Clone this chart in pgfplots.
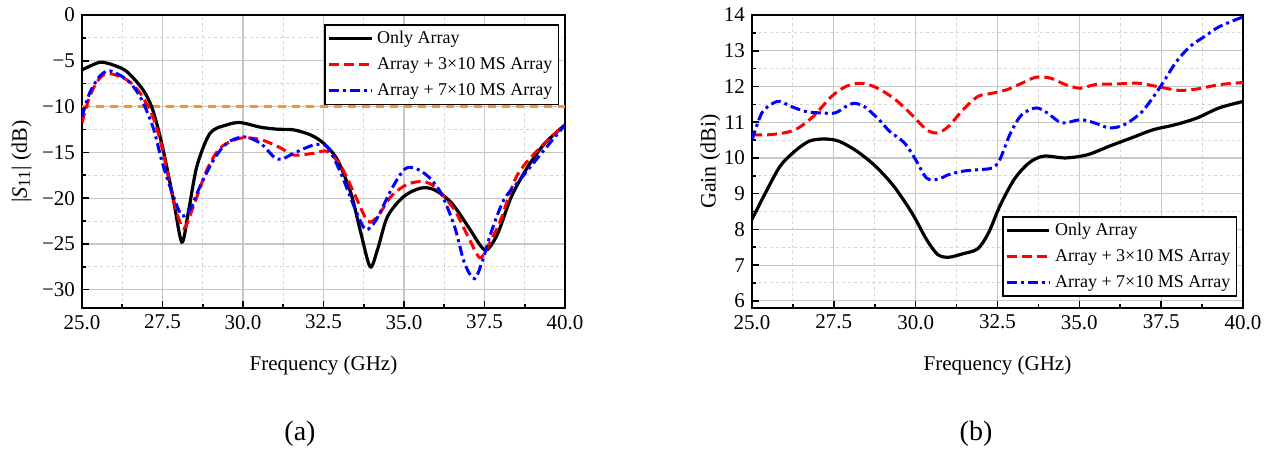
\documentclass[border=0pt]{standalone}
\usepackage{fontspec}
\setmainfont{Liberation Serif}
\usepackage{pgfplots}
\pgfplotsset{compat=1.18}
\definecolor{myorange}{RGB}{245,150,50}
\pgfplotsset{
  myaxis/.style={
    scale only axis,
    xmin=25, xmax=40,
    xtick={25,27.5,30,32.5,35,37.5,40},
    xticklabels={25.0,27.5,30.0,32.5,35.0,37.5,40.0},
    minor x tick num=1,
    minor y tick num=1,
    grid=both,
    major grid style={black!22, line width=0.6pt},
    minor grid style={black!16, dash pattern=on 1.5pt off 1.5pt, line width=0.5pt},
    tick align=inside,
    xtick pos=left, ytick pos=left,
    major tick length=3.5pt, minor tick length=2pt,
    axis line style={line width=0.9pt},
    every tick/.style={black, line width=0.8pt},
    tick label style={font=\fontsize{10.5}{12}\selectfont},
    label style={font=\fontsize{10.5}{12}\selectfont},
    ylabel style={font=\fontsize{11}{13}\selectfont},
    xlabel={Frequency (GHz)},
    xlabel style={at={(axis description cs:0.5,-0.195)}, anchor=center},
    legend cell align=left,
    legend style={font=\fontsize{9}{11}\selectfont, draw=black, line width=0.8pt, inner sep=1pt, row sep=1.5pt},
    legend image code/.code={\draw[#1] (0cm,0cm) -- (0.75cm,0cm);},
  },
  blk/.style={black, line width=1.6pt, smooth},
  rd/.style={red, line width=1.5pt, dash pattern=on 5pt off 2.5pt, smooth},
  bl/.style={blue, line width=1.5pt, dash pattern=on 5pt off 2pt on 1.5pt off 2pt, smooth},
}
\begin{document}
\begin{tikzpicture}
\useasboundingbox (0,0) rectangle (640.5pt,-224.5pt);
% (a)
\begin{axis}[myaxis,
  at={(41pt,-154pt)}, anchor=south west,
  width=241.5pt, height=146.5pt,
  ymin=-32, ymax=0,
  ytick={-30,-25,-20,-15,-10,-5,0},
  yticklabels={−30,−25,−20,−15,−10,−5,0},
  ylabel={|\textit{S}\raisebox{-0.3ex}{\fontsize{8.5}{9}\selectfont 11}| (dB)},
  ylabel style={at={(axis description cs:-0.125,0.5)}, anchor=center},
  legend style={at={(axis description cs:0.988,0.969)}, anchor=north east},
]
\addplot[myorange, line width=1.2pt, dash pattern=on 4pt off 3pt, forget plot] coordinates {(25,-10) (40,-10)};
\addplot[blk] coordinates {(25.0,-6.0) (25.3,-5.5) (25.6,-5.15) (26.0,-5.5) (26.4,-6.2) (26.9,-8.2) (27.2,-10.4) (27.5,-14.4) (27.84,-20.2) (28.1,-24.8) (28.3,-21.6) (28.57,-16.5) (28.98,-12.9) (29.5,-12.0) (29.92,-11.75) (30.54,-12.25) (31.06,-12.47) (31.58,-12.55) (32.1,-13.1) (32.5,-14.0) (32.93,-15.8) (33.35,-19.45) (33.66,-23.8) (33.95,-27.5) (34.18,-25.6) (34.49,-22.0) (35.0,-19.8) (35.53,-18.9) (35.95,-19.1) (36.47,-20.5) (36.99,-23.1) (37.4,-25.3) (37.6,-25.6) (37.92,-23.8) (38.34,-19.8) (38.86,-16.5) (39.38,-14.0) (40,-12.0)};
\addlegendentry{Only Array}
\addplot[rd] coordinates {(25.0,-11.8) (25.24,-8.9) (25.55,-6.9) (25.86,-6.4) (26.4,-7.1) (26.8,-8.5) (27.2,-11.1) (27.5,-14.7) (27.84,-20.2) (28.15,-23.3) (28.46,-20.9) (28.88,-16.9) (29.3,-14.5) (29.92,-13.45) (30.54,-13.6) (31.16,-14.5) (31.58,-15.3) (32.2,-15.1) (32.62,-14.9) (33.04,-16.5) (33.45,-19.45) (33.87,-22.5) (34.18,-22.0) (34.6,-19.8) (35.1,-18.5) (35.6,-18.2) (36.0,-18.9) (36.57,-21.3) (36.99,-24.2) (37.35,-26.5) (37.6,-25.3) (38.0,-22.4) (38.5,-17.6) (39.17,-14.7) (40,-12.0)};
\addlegendentry{Array + 3×10 MS Array}
\addplot[bl] coordinates {(25.0,-11.1) (25.24,-8.5) (25.55,-6.7) (25.86,-6.1) (26.4,-7.1) (26.8,-8.9) (27.2,-12.2) (27.5,-16.2) (27.84,-19.8) (28.1,-21.9) (28.35,-21.3) (28.67,-18.7) (29.09,-15.8) (29.5,-14.0) (30.02,-13.3) (30.54,-14.0) (30.96,-15.5) (31.2,-15.75) (31.58,-15.1) (32.2,-14.2) (32.62,-14.4) (33.04,-17.3) (33.45,-20.9) (33.8,-23.4) (34.13,-22.4) (34.6,-19.1) (35.0,-16.9) (35.32,-16.7) (35.74,-17.6) (36.15,-19.45) (36.57,-23.1) (36.88,-27.1) (37.19,-28.8) (37.45,-26.7) (37.7,-23.8) (38.1,-20.2) (38.6,-18.0) (39.27,-15.1) (40,-12.0)};
\addlegendentry{Array + 7×10 MS Array}
\end{axis}
% (b)
\begin{axis}[myaxis,
  at={(376pt,-154pt)}, anchor=south west,
  width=245.5pt, height=146.5pt,
  ymin=5.8, ymax=14,
  ytick={6,7,8,9,10,11,12,13,14},
  yticklabels={6,7,8,9,10,11,12,13,14},
  ylabel={Gain (dBi)},
  ylabel style={at={(axis description cs:-0.085,0.5)}, anchor=center},
  legend style={at={(axis description cs:0.988,0.0375)}, anchor=south east},
]
\addplot[blk] coordinates {(25.0,8.28) (25.41,9.02) (25.86,9.77) (26.31,10.19) (26.75,10.47) (27.2,10.53) (27.65,10.47) (28.2,10.19) (28.77,9.77) (29.33,9.21) (29.88,8.47) (30.33,7.72) (30.67,7.30) (31.0,7.22) (31.45,7.32) (31.9,7.46) (32.23,7.91) (32.57,8.65) (33.01,9.40) (33.46,9.86) (33.91,10.05) (34.58,10.0) (35.25,10.09) (35.92,10.33) (36.59,10.56) (37.26,10.79) (37.93,10.93) (38.6,11.12) (39.27,11.4) (40,11.58)};
\addlegendentry{Only Array}
\addplot[rd] coordinates {(25.0,10.65) (25.53,10.65) (26.08,10.72) (26.42,10.84) (26.87,11.16) (27.43,11.72) (27.87,12.0) (28.32,12.09) (28.77,11.98) (29.33,11.67) (29.88,11.21) (30.33,10.79) (30.67,10.7) (31.0,10.88) (31.45,11.35) (31.9,11.72) (32.34,11.81) (32.79,11.91) (33.24,12.09) (33.68,12.26) (34.13,12.23) (34.58,12.05) (35.03,11.95) (35.47,12.05) (36.14,12.07) (36.81,12.09) (37.48,11.98) (38.04,11.89) (38.6,11.93) (39.27,12.05) (40,12.11)};
\addlegendentry{Array + 3×10 MS Array}
\addplot[bl] coordinates {(25.0,10.5) (25.3,11.26) (25.64,11.53) (25.86,11.58) (26.2,11.44) (26.64,11.3) (27.09,11.26) (27.54,11.26) (27.87,11.44) (28.1,11.53) (28.43,11.44) (28.88,11.07) (29.21,10.74) (29.66,10.42) (30.0,9.95) (30.33,9.44) (30.67,9.4) (31.0,9.53) (31.45,9.63) (31.9,9.67) (32.34,9.72) (32.57,9.95) (32.9,10.7) (33.24,11.21) (33.68,11.4) (34.02,11.26) (34.47,10.98) (35.03,11.07) (35.47,10.98) (35.92,10.84) (36.37,10.93) (36.92,11.3) (37.48,12.0) (37.93,12.65) (38.38,13.12) (38.83,13.4) (39.27,13.67) (40,13.95)};
\addlegendentry{Array + 7×10 MS Array}
\end{axis}
\node[font=\fontsize{14}{16}\selectfont] at (150pt,-217pt) {(a)};
\node[font=\fontsize{14}{16}\selectfont] at (488pt,-217pt) {(b)};
\end{tikzpicture}
\end{document}
